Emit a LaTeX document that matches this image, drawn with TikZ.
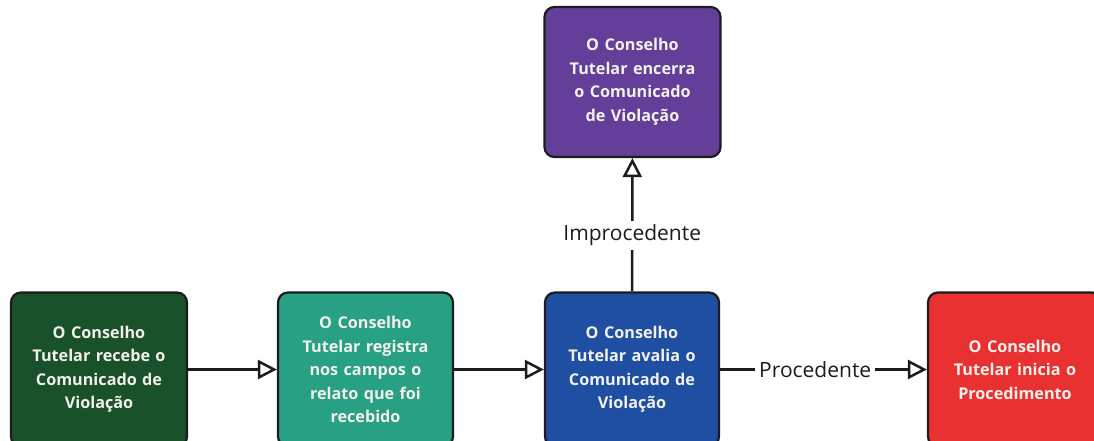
\documentclass[tikz,border=0pt]{standalone}
\usepackage{fontspec}
\setmainfont{Open Sans}
\usetikzlibrary{arrows.meta}
\definecolor{cgreen}{HTML}{19512A}
\definecolor{cteal}{HTML}{27A084}
\definecolor{cblue}{HTML}{1E4FA2}
\definecolor{cpurple}{HTML}{643F99}
\definecolor{cred}{HTML}{E93131}
\definecolor{cborder}{HTML}{1C1C1C}
\definecolor{ctext}{HTML}{F4F1EA}
\tikzset{
  boxnode/.style={draw=cborder, line width=2.2pt, rounded corners=10pt, minimum width=176pt, minimum height=154pt, text width=165pt, align=center, text=ctext, font=\fontsize{16.2pt}{23.5pt}\selectfont\bfseries, inner sep=0pt},
  conn/.style={line width=2.5pt, draw=cborder, -{Triangle[open, length=19pt, width=19pt, fill=white]}},
  lbl/.style={fill=white, font=\fontsize{21pt}{24pt}\selectfont, text=cborder, inner sep=4pt}
}
\begin{document}
\begin{tikzpicture}[x=1pt, y=-1pt]
\useasboundingbox (0,0) rectangle (1094,441);
\clip (0,0) rectangle (1094,441);
\node[boxnode, fill=cgreen] (b1) at (99,369.5) {O Conselho\\Tutelar recebe o\\Comunicado de\\Violação};
\node[boxnode, fill=cteal, minimum width=175pt] (b2) at (365.5,369.5) {O Conselho\\Tutelar registra\\nos campos o\\relato que foi\\recebido};
\node[boxnode, fill=cblue, minimum width=174pt] (b3) at (632,369.5) {O Conselho\\Tutelar avalia o\\Comunicado de\\Violação};
\node[boxnode, fill=cred, minimum width=174pt] (b4) at (1015,369.5) {O Conselho\\Tutelar inicia o\\Procedimento};
\node[boxnode, fill=cpurple, minimum height=150pt] (b5) at (632.5,82) {O Conselho\\Tutelar encerra\\o Comunicado\\de Violação};
\draw[conn] (b1) -- (b2);
\draw[conn] (b2) -- (b3);
\draw[conn] (b3) -- node[lbl, pos=0.46]{Procedente} (b4);
\draw[conn] (b3) -- node[lbl, pos=0.42]{Improcedente} (b5);
\end{tikzpicture}
\end{document}
